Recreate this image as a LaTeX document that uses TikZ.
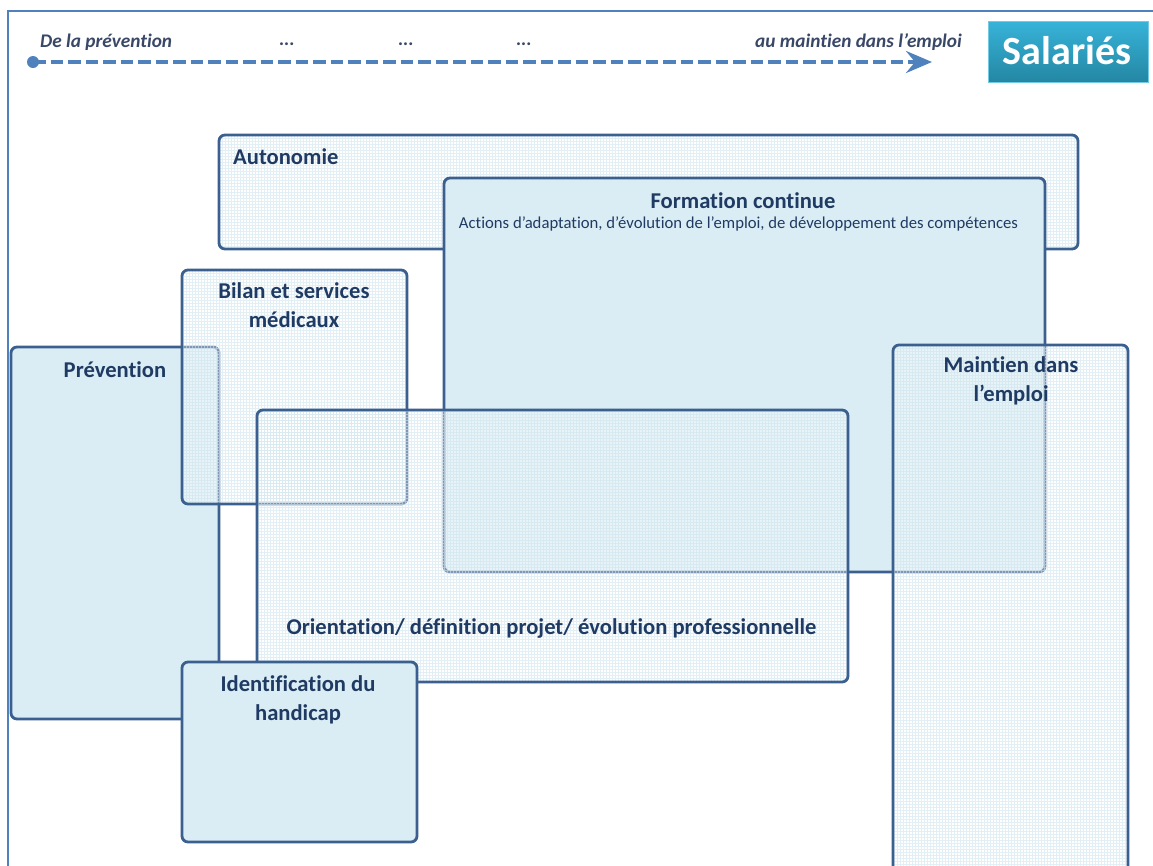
\documentclass[tikz,border=0pt]{standalone}
\usepackage{fontspec}
\setmainfont{Carlito}[Ligatures=NoCommon]
\usetikzlibrary{arrows.meta}
\definecolor{bordc}{HTML}{3B5F8E}
\definecolor{txtc}{HTML}{1F3B63}
\definecolor{solidc}{HTML}{DBEDF4}
\definecolor{gridc}{HTML}{CFE4EE}
\definecolor{framec}{HTML}{4F81BD}
\definecolor{arrowc}{HTML}{4F81BD}
\definecolor{toptxt}{HTML}{3A4868}
\definecolor{saltop}{HTML}{37B3D9}
\definecolor{salbot}{HTML}{2487A3}
\newcommand\gridbox[4]{%
  \path[fill=white, fill opacity=0.35, rounded corners=6pt] (#1,#2) rectangle (#3,#4);
  \begin{scope}
    \clip[rounded corners=6pt] (#1,#2) rectangle (#3,#4);
    \draw[gridc, line width=0.8pt, opacity=0.6, step=3pt] (#1,#2) grid (#3,#4);
  \end{scope}
  \draw[boxline] (#1,#2) rectangle (#3,#4);
}
\begin{document}
\begin{tikzpicture}[x=1pt,y=-1pt,
  boxline/.style={draw=bordc, line width=2.8pt, rounded corners=6pt},
  solidbox/.style={boxline, fill=solidc},
  lbl/.style={text=txtc, font=\bfseries\fontsize{22.6}{29}\selectfont, align=center, inner sep=0pt},
  sublbl/.style={text=txtc, font=\fontsize{16.7}{18}\selectfont, inner sep=0pt},
  toplbl/.style={text=toptxt, font=\bfseries\itshape\fontsize{19.3}{21}\selectfont, inner sep=0pt},
]
\useasboundingbox (0,0) rectangle (1153,865);
% outer frame
\draw[framec, line width=2pt] (8,880) -- (8,11) -- (1170,11);

% timeline arrow
\coordinate (tstart) at (33,62);
\coordinate (tend) at (932,62);
\draw[arrowc, line width=4pt, dash pattern=on 12.5pt off 5pt,
  -{Stealth[length=26pt, width=22pt, inset=9pt]}] (tstart) -- (tend);
\fill[arrowc] (tstart) circle (6);
\node[toplbl, anchor=west] (tleft) at (40,42) {De la prévention};
\node[toplbl] (dots1) at (287,44) {...};
\node[toplbl] (dots2) at (406,44) {...};
\node[toplbl] (dots3) at (524,44) {...};
\node[toplbl, anchor=east] (tright) at (962,42) {au maintien dans l’emploi};

% Salariés
\shade[top color=saltop, bottom color=salbot, draw=saltop!70!white, line width=1pt] (988,21) rectangle (1148,82);
\node[text=white, font=\bfseries\fontsize{40}{41}\selectfont, inner sep=0pt] (sal) at (1067,51) {Salariés};

% boxes
\gridbox{219}{135}{1078}{249}
\draw[solidbox] (444,178) rectangle (1045,572);
\draw[solidbox] (11,347) rectangle (219,719);
\gridbox{182}{270}{407}{504}
\gridbox{257}{410}{848}{682}
\draw[solidbox] (182,662) rectangle (417,842);
\gridbox{893}{345}{1128}{900}

% labels
\node[lbl, anchor=west] (auto) at (233,157) {Autonomie};
\node[lbl] (form) at (743,201) {Formation continue};
\node[sublbl] (formsub) at (738.5,224) {Actions d'adaptation, d'évolution de l'emploi, de développement des compétences};
\node[lbl] (bilan) at (294,305.5) {Bilan et services\\médicaux};
\node[lbl] (prev) at (115,370) {Prévention};
\node[lbl] (maint) at (1011,381) {Maintien dans\\l’emploi};
\node[lbl] (orient) at (551.5,628) {Orientation/ définition projet/ évolution professionnelle};
\node[lbl] (ident) at (298,699.5) {Identification du\\handicap};
\end{tikzpicture}
\end{document}
